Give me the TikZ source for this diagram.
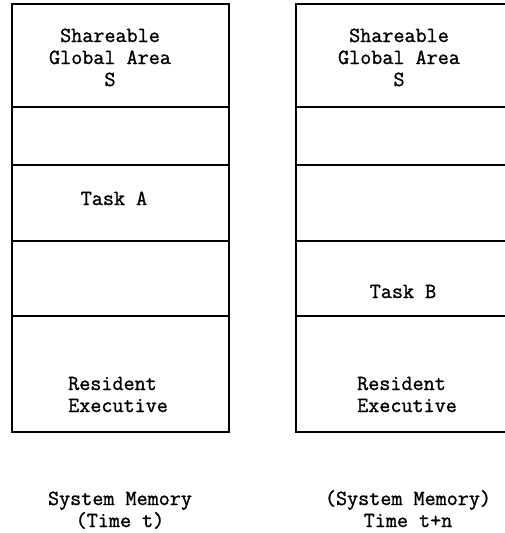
\documentclass[tikz,border=0pt]{standalone}
\usepackage{fontspec}
\setmonofont[FakeBold=1.2]{Latin Modern Mono}
\begin{document}
\begin{tikzpicture}[x=1pt,y=-1pt,
  wall/.style={line width=1.1pt,line cap=rect},
  label/.style={font=\ttfamily\fontsize{21.5}{22}\selectfont,inner sep=0pt,anchor=base},
  blockc/.style={label,align=center},
  blockl/.style={label,align=left,anchor=base west}]
\useasboundingbox (0,0) rectangle (505,533);

% memory map at time t (block anchors sit on the last baseline)
\draw[wall] (12,4) rectangle (229,432);
\foreach \yy in {107,165,241,316}
  \draw[wall] (12,\yy) -- (229,\yy);

\node[blockc] (sgaA) at (110,86) {Shareable\\Global Area\\S};
\node[label] (taskA) at (114,205) {Task A};
\node[blockl] (resA) at (68,412) {Resident\\Executive};
\node[blockc] (capA) at (120,527) {System Memory\\(Time t)};

% memory map at time t+n (runs off the right edge)
\draw[wall] (505,4) -- (296,4) -- (296,432) -- (505,432);
\foreach \yy in {107,165,241,316}
  \draw[wall] (296,\yy) -- (505,\yy);

\node[blockc] (sgaB) at (399,86) {Shareable\\Global Area\\S};
\node[label] (taskB) at (403,298) {Task B};
\node[blockl] (resB) at (357,412) {Resident\\Executive};
\node[blockc] (capB) at (408,527) {(System Memory)\\Time t+n};
\end{tikzpicture}
\end{document}
